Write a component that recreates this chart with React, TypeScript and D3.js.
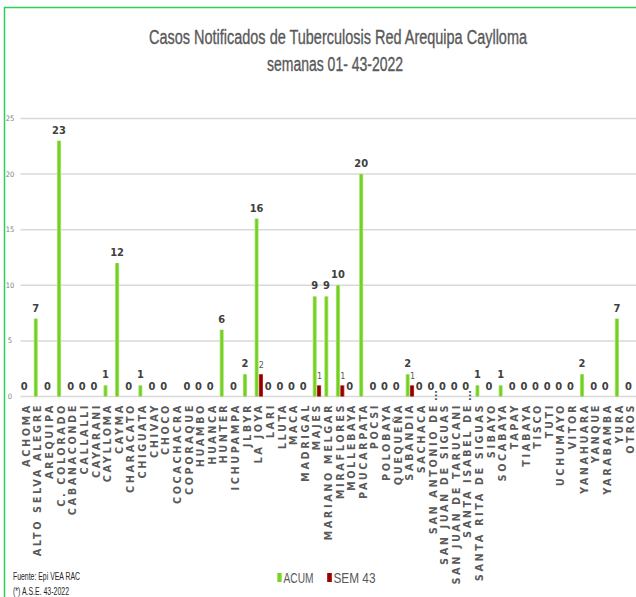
import React from "react";
import * as d3 from "d3";

const categories: string[] = [
  "ACHOMA", "ALTO SELVA ALEGRE", "AREQUIPA", "C. COLORADO", "CABANACONDE", "CALLALLI",
  "CAYARANI", "CAYLLOMA", "CAYMA", "CHARACATO", "CHIGUATA", "CHIVAY", "CHOCO",
  "COCACHACRA", "COPORAQUE", "HUAMBO", "HUANCA", "HUNTER", "ICHUPAMPA", "JLBYR",
  "LA JOYA", "LARI", "LLUTA", "MACA", "MADRIGAL", "MAJES", "MARIANO MELGAR",
  "MIRAFLORES", "MOLLEBAYA", "PAUCARPATA", "POCSI", "POLOBAYA", "QUEQUEÑA", "SABANDIA",
  "SACHACA", "SAN ANTONIO DE...", "SAN JUAN DE SIGUAS", "SAN JUAN DE TARUCANI",
  "SANTA ISABEL DE...", "SANTA RITA DE SIGUAS", "SIBAYO", "SOCABAYA", "TAPAY",
  "TIABAYA", "TISCO", "TUTI", "UCHUMAYO", "VITOR", "YANAHUARA", "YANQUE",
  "YARABAMBA", "YURA", "OTROS",
];

const acum: (number | null)[] = [
  0, 7, 0, 23, 0, 0, 0, 1, 12, 0, 1, 0, 0,
  null, 0, 0, 0, 6, 0, 2,
  16, 0, 0, 0, 0, 9, 9,
  10, 0, 20, 0, 0, 0, 2,
  0, 0, 0, 0,
  0, 1, 0, 1, 0,
  0, 0, 0, 0, 0, 2, 0,
  0, 7, 0,
];

const sem43: (number | null)[] = [
  0, 0, 0, 0, 0, 0, 0, 0, 0, 0, 0, 0, 0,
  null, 0, 0, 0, 0, 0, 0,
  2, 0, 0, 0, 0, 1, 0,
  1, 0, 0, 0, 0, 0, 1,
  0, 0, 0, 0,
  0, 0, 0, 0, 0,
  0, 0, 0, 0, 0, 0, 0,
  0, 0, 0,
];

const yTicks: number[] = [0, 5, 10, 15, 20, 25];
const seriesNames: string[] = ["ACUM", "SEM 43"];

const W = 636;
const H = 597;
const NARROW = "'DejaVu Sans Condensed', sans-serif";
const ARIAL = "'Liberation Sans', Arial, sans-serif";

export default function App() {
  const x = d3
    .scaleBand<string>()
    .domain(categories)
    .range([20.5, 636.5])
    .paddingInner(0.24)
    .paddingOuter(0.12);
  const sub = d3.scaleBand<string>().domain(seriesNames).range([0, x.bandwidth()]).padding(0.04);
  const y = d3.scaleLinear().domain([0, 25]).range([396.5, 118.5]);

  return (
    <svg
      width={W}
      height={H}
      style={{ position: "absolute", left: 0, top: 0, background: "#fff" }}
    >
      <defs>
        <linearGradient id="gGreen" x1="0" x2="1" y1="0" y2="0">
          <stop offset="0%" stopColor="#b8ec86" />
          <stop offset="35%" stopColor="#74cf24" />
          <stop offset="65%" stopColor="#74cf24" />
          <stop offset="100%" stopColor="#b8ec86" />
        </linearGradient>
        <linearGradient id="gRed" x1="0" x2="1" y1="0" y2="0">
          <stop offset="0%" stopColor="#c83a3a" />
          <stop offset="35%" stopColor="#8e0000" />
          <stop offset="65%" stopColor="#8e0000" />
          <stop offset="100%" stopColor="#c83a3a" />
        </linearGradient>
      </defs>
      <rect x={0} y={0} width={W} height={H} fill="#fff" />
      {/* chart border */}
      <line x1={4.5} x2={4.5} y1={7} y2={H} stroke="#2fcf5a" strokeWidth={1.5} />
      <line x1={4} x2={W} y1={7.5} y2={7.5} stroke="#2fcf5a" strokeWidth={1.5} />

      {/* title */}
      <text
        x={338}
        y={44}
        textAnchor="middle"
        fontFamily={ARIAL}
        fontSize={20}
        fill="#595959"
        stroke="#595959"
        strokeWidth={0.35}
        textLength={378}
        lengthAdjust="spacingAndGlyphs"
      >
        Casos Notificados de Tuberculosis Red Arequipa Caylloma
      </text>
      <text
        x={335}
        y={71}
        textAnchor="middle"
        fontFamily={ARIAL}
        fontSize={20}
        fill="#595959"
        stroke="#595959"
        strokeWidth={0.35}
        textLength={136}
        lengthAdjust="spacingAndGlyphs"
      >
        semanas 01- 43-2022
      </text>

      {/* gridlines and y ticks */}
      {yTicks.map((t) => (
        <g key={t}>
          <line x1={20.5} x2={636} y1={y(t)} y2={y(t)} stroke="#d9d9d9" strokeWidth={1.5} />
          <text
            x={10}
            y={y(t) + 2.5}
            textAnchor="middle"
            fontFamily={NARROW}
            fontSize={7.5}
            fill="#7f7f7f"
          >
            {t}
          </text>
        </g>
      ))}

      {/* bars */}
      {categories.map((c, i) => {
        const bx = x(c)!;
        const a = acum[i];
        const s = sem43[i];
        const ax = bx + sub("ACUM")!;
        const sx = bx + sub("SEM 43")!;
        const bw = sub.bandwidth();
        return (
          <g key={c}>
            {a !== null && a > 0 && (
              <rect x={ax} y={y(a)} width={bw} height={y(0) - y(a)} fill="url(#gGreen)" />
            )}
            {s !== null && s > 0 && (
              <rect x={sx} y={y(s)} width={bw} height={y(0) - y(s)} fill="url(#gRed)" />
            )}
            {a !== null && (
              <text
                x={ax + bw / 2}
                y={y(a) - 7}
                textAnchor="middle"
                fontFamily={NARROW}
                fontWeight="bold"
                fontSize={11}
                fill="#404040"
              >
                {a}
              </text>
            )}
            {s !== null && s > 0 && (
              <text
                x={sx + bw / 2 + 0.5}
                y={y(s) - 6}
                textAnchor="middle"
                fontFamily={NARROW}
                fontSize={9}
                fill="#595959"
              >
                {s}
              </text>
            )}
          </g>
        );
      })}

      {/* x labels */}
      {categories.map((c) => {
        const cx = x(c)! + x.bandwidth() / 2 + 3.5;
        const trunc = c.endsWith("...");
        const main = trunc ? c.slice(0, -3) : c;
        return (
          <g key={"l" + c} transform={`translate(${cx},403) rotate(-90)`}>
            <text
              x={0}
              y={0}
              textAnchor="end"
              fontFamily="'DejaVu Sans', sans-serif"
              fontWeight="bold"
              fontSize={9.8}
              letterSpacing={2.55}
              fill="#595959"
            >
              {main}
            </text>
            {trunc && (
              <text
                x={2}
                y={0}
                textAnchor="start"
                fontFamily="'DejaVu Sans', sans-serif"
                fontWeight="bold"
                fontSize={9.6}
                fill="#595959"
              >
                ...
              </text>
            )}
          </g>
        );
      })}

      {/* legend */}
      <rect x={277} y={573} width={5} height={9} fill="url(#gGreen)" />
      <text
        x={283.5}
        y={582.5}
        fontFamily={ARIAL}
        fontSize={14}
        fill="#595959"
        textLength={30}
        lengthAdjust="spacingAndGlyphs"
      >
        {seriesNames[0]}
      </text>
      <rect x={327} y={573} width={5} height={9} fill="url(#gRed)" />
      <text
        x={333.5}
        y={582.5}
        fontFamily={ARIAL}
        fontSize={14}
        fill="#595959"
        textLength={42}
        lengthAdjust="spacingAndGlyphs"
      >
        {seriesNames[1]}
      </text>

      {/* footer */}
      <text
        x={13}
        y={580}
        fontFamily={ARIAL}
        fontSize={10}
        fill="#262626"
        textLength={67}
        lengthAdjust="spacingAndGlyphs"
      >
        Fuente:  Epi VEA RAC
      </text>
      <text
        x={13}
        y={595}
        fontFamily={ARIAL}
        fontSize={10}
        fill="#262626"
        textLength={56}
        lengthAdjust="spacingAndGlyphs"
      >
        (*) A.S.E. 43-2022
      </text>
    </svg>
  );
}
